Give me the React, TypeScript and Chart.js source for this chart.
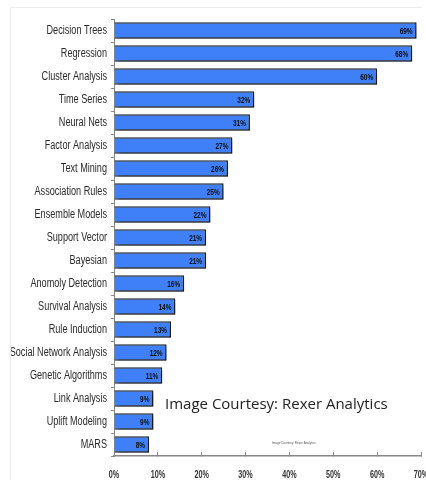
import React, { useEffect, useRef } from "react";
import { Chart, registerables } from "chart.js";

Chart.register(...registerables);

const categories = [
  "Decision Trees", "Regression", "Cluster Analysis", "Time Series", "Neural Nets",
  "Factor Analysis", "Text Mining", "Association Rules", "Ensemble Models", "Support Vector",
  "Bayesian", "Anomoly Detection", "Survival Analysis", "Rule Induction", "Social Network Analysis",
  "Genetic Algorithms", "Link Analysis", "Uplift Modeling", "MARS",
];
const values = [69, 68, 60, 32, 31, 27, 26, 25, 22, 21, 21, 16, 14, 13, 12, 11, 9, 9, 8];
const xTicks = [0, 10, 20, 30, 40, 50, 60, 70];
const courtesy = "Image Courtesy: Rexer Analytics";

const SANS = "'Liberation Sans', Arial, sans-serif";

function drawSqueezed(ctx: CanvasRenderingContext2D, text: string, x: number, y: number, align: "left" | "right" | "center", sx: number) {
  ctx.save();
  ctx.translate(x, y);
  ctx.scale(sx, 1);
  ctx.textAlign = align;
  ctx.fillText(text, 0, 0);
  ctx.restore();
}

export default function App() {
  const ref = useRef<HTMLCanvasElement>(null);
  useEffect(() => {
    if (!ref.current) return;
    const shadowPlugin = {
      id: "shadow",
      beforeDatasetsDraw(chart: any) {
        const ctx = chart.ctx;
        ctx.save();
        ctx.shadowColor = "rgba(0,0,0,0.35)";
        ctx.shadowBlur = 3;
        ctx.shadowOffsetX = 3;
        ctx.shadowOffsetY = 3;
      },
      afterDatasetsDraw(chart: any) {
        chart.ctx.restore();
      },
    };
    const labelPlugin = {
      id: "valueLabels",
      afterDatasetsDraw(chart: any) {
        const ctx = chart.ctx;
        const meta = chart.getDatasetMeta(0);
        ctx.save();
        ctx.font = `bold 9px ${SANS}`;
        ctx.fillStyle = "#111";
        ctx.textBaseline = "middle";
        meta.data.forEach((bar: any, i: number) => {
          drawSqueezed(ctx, values[i] + "%", bar.x - 4, bar.y + 1, "right", 0.72);
        });
        ctx.restore();
      },
      afterDraw(chart: any) {
        const ctx = chart.ctx;
        ctx.save();
        // y category labels
        const ys = chart.scales.y;
        ctx.font = `12px ${SANS}`;
        ctx.fillStyle = "#2a2a2a";
        ctx.textBaseline = "middle";
        categories.forEach((c, i) => {
          drawSqueezed(ctx, c, ys.right - 7, ys.getPixelForTick(i) + 0.5, "right", 0.76);
        });
        // x tick labels
        const xs = chart.scales.x;
        ctx.font = `bold 10px ${SANS}`;
        ctx.fillStyle = "#333";
        xTicks.forEach((v) => {
          drawSqueezed(ctx, v + "%", xs.getPixelForValue(v), 475, "center", 0.72);
        });
        ctx.textAlign = "left";
        ctx.fillStyle = "#222";
        ctx.font = "15px 'Open Sans', 'DejaVu Sans', sans-serif";
        ctx.fillText(courtesy, 165, 405);
        ctx.font = "3px 'Liberation Sans', sans-serif";
        ctx.fillStyle = "#555";
        ctx.fillText(courtesy, 272, 443);
        ctx.strokeStyle = "#ececec";
        ctx.lineWidth = 1;
        ctx.beginPath();
        ctx.moveTo(10.5, 480);
        ctx.lineTo(10.5, 7.5);
        ctx.lineTo(422, 7.5);
        ctx.stroke();
        ctx.restore();
      },
    };
    const chart = new Chart(ref.current, {
      type: "bar",
      data: {
        labels: categories,
        datasets: [
          {
            data: values,
            backgroundColor: "#3f7ff7",
            borderColor: "#1e2430",
            borderWidth: 1.5,
            barPercentage: 0.72,
            categoryPercentage: 1,
          },
        ],
      },
      options: {
        indexAxis: "y",
        animation: false,
        responsive: false,
        maintainAspectRatio: false,
        layout: { padding: { top: 19, right: 5, left: 0, bottom: 0 } },
        plugins: { legend: { display: false }, tooltip: { enabled: false } },
        scales: {
          x: {
            min: 0,
            max: 70,
            afterBuildTicks(scale: any) {
              scale.ticks = xTicks.map((v) => ({ value: v }));
            },
            afterFit(scale: any) {
              scale.height = 24;
            },
            grid: {
              display: true,
              drawOnChartArea: false,
              drawTicks: true,
              tickLength: -4,
              color: "#888",
            },
            border: { display: true, color: "#888", width: 1.5 },
            ticks: { display: false },
          },
          y: {
            afterFit(scale: any) {
              scale.width = 114;
            },
            grid: {
              display: true,
              drawOnChartArea: false,
              offset: true,
              tickLength: 3,
              color: "#888",
            },
            border: { display: true, color: "#888", width: 1 },
            ticks: { display: false },
          },
        },
      },
      plugins: [shadowPlugin, labelPlugin],
    } as any);
    return () => chart.destroy();
  }, []);
  return (
    <div style={{ position: "fixed", left: 0, top: 0, width: 426, height: 480, background: "#fff" }}>
      <canvas ref={ref} width={426} height={480} style={{ width: 426, height: 480 }} />
    </div>
  );
}
